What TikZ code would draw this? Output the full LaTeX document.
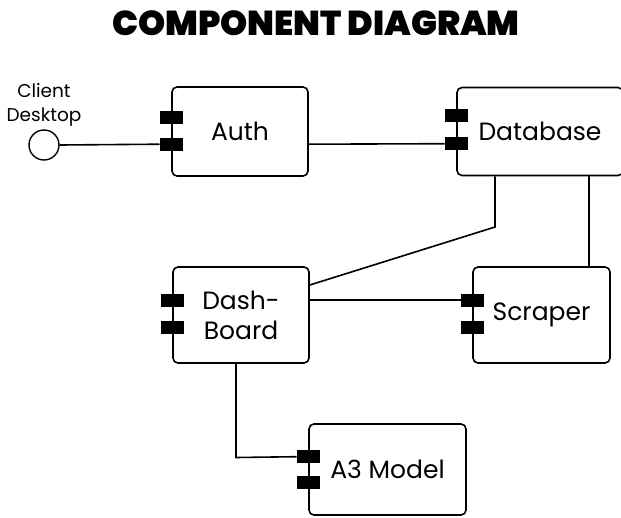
\documentclass[tikz,border=0pt]{standalone}
\usepackage{fontspec}
\setmainfont{Poppins}
\newfontfamily\titlefont{Poppins Black}
\begin{document}
\begin{tikzpicture}[x=1pt,y=-1pt,
  comp/.style={draw, line width=1.6pt, rounded corners=5pt, fill=white,
    inner sep=0pt, font=\fontsize{25}{30}\selectfont, align=center},
  port/.style={fill=black, draw=none, minimum width=23pt, minimum height=13pt, inner sep=0pt},
  wire/.style={line width=1.6pt},
  iface/.style={draw, line width=1.4pt, circle, minimum size=30pt, inner sep=0pt, fill=white}]
\useasboundingbox (0,0) rectangle (621,517);

% title
\node (title) at (316,23) {\titlefont\fontsize{34.5}{40}\selectfont COMPONENT DIAGRAM};

% interface
\node[iface] (client) at (44,145) {};
\node[align=center, font=\fontsize{18.5}{23.5}\selectfont] (clientlbl) at (44,105) {Client\\Desktop};

% components
\node[comp, minimum width=136pt, minimum height=89pt] (auth) at (240,131.5) {Auth};
\node[comp, minimum width=166pt, minimum height=88pt] (db) at (540,131.5) {Database};
\node[comp, minimum width=136pt, minimum height=96pt] (dash) at (241,315) {Dash-\\Board};
\node[comp, minimum width=137pt, minimum height=96pt] (scr) at (541.5,315) {Scraper};
\node[comp, minimum width=157pt, minimum height=91pt] (a3) at (387.5,469.5) {A3 Model};

% ports
\node[port] (authP1) at ([yshift=-31pt]auth.north west) {};
\node[port] (authP2) at ([yshift=-58pt]auth.north west) {};
\node[port] (dbP1) at ([yshift=-29pt]db.north west) {};
\node[port] (dbP2) at ([yshift=-57pt]db.north west) {};
\node[port] (dashP1) at ([yshift=-34pt]dash.north west) {};
\node[port] (dashP2) at ([yshift=-61.5pt]dash.north west) {};
\node[port] (scrP1) at ([yshift=-34pt]scr.north west) {};
\node[port] (scrP2) at ([yshift=-61.5pt]scr.north west) {};
\node[port] (a3P1) at ([yshift=-33.5pt]a3.north west) {};
\node[port] (a3P2) at ([yshift=-59.5pt]a3.north west) {};

% bend points
\coordinate (dbBend) at (495,227);
\coordinate (dashHit) at (310,285);
\coordinate (scrDrop) at (589,175);
\coordinate (a3Bend) at (236,457.5);

% connectors
\draw[wire] (client.east) -- (authP2.west);
\draw[wire] (auth.east |- authP2) -- (dbP2.west);
\draw[wire] (db.south -| dbBend) -- (dbBend) -- (dash.east |- dashHit);
\draw[wire] (db.south -| scrDrop) -- (scr.north -| scrDrop);
\draw[wire] (dash.east |- scrP1) -- (scrP1.west);
\draw[wire] (dash.south -| a3Bend) -- (a3Bend) -- (a3P1.west);
\end{tikzpicture}
\end{document}
